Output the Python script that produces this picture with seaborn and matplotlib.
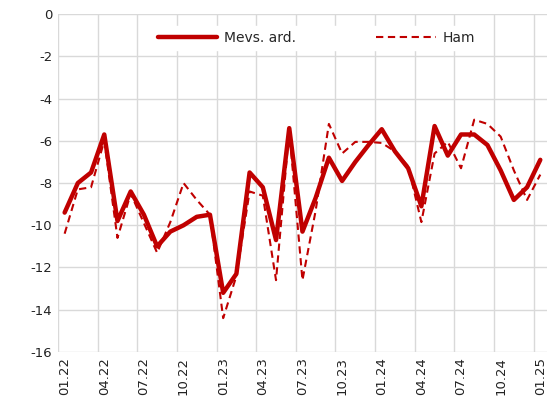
import numpy as np
import pandas as pd
import matplotlib
matplotlib.use("Agg")
import matplotlib.pyplot as plt
import seaborn as sns
from matplotlib.ticker import FixedLocator

months = ["01.22","02.22","03.22","04.22","05.22","06.22","07.22","08.22","09.22","10.22","11.22","12.22",
          "01.23","02.23","03.23","04.23","05.23","06.23","07.23","08.23","09.23","10.23","11.23","12.23",
          "01.24","02.24","03.24","04.24","05.24","06.24","07.24","08.24","09.24","10.24","11.24","12.24",
          "01.25"]
mevs = [-9.4, -8.0, -7.5, -5.7, -9.8, -8.4, -9.5, -11.0, -10.3, -10.0, -9.6, -9.5,
        -13.2, -12.3, -7.5, -8.2, -10.7, -5.4, -10.3, -8.7, -6.8, -7.9, -7.0, -6.2,
        -5.45, -6.5, -7.3, -9.1, -5.3, -6.7, -5.7, -5.7, -6.2, -7.4, -8.8, -8.2,
        -6.9]
ham = [-10.4, -8.3, -8.2, -6.0, -10.6, -8.5, -9.9, -11.3, -9.85, -8.0, -8.8, -9.5,
       -14.4, -12.4, -8.4, -8.6, -12.6, -5.5, -12.6, -9.3, -5.2, -6.6, -6.05, -6.05,
       -6.1, -6.5, -7.2, -9.85, -6.6, -6.05, -7.3, -5.0, -5.2, -5.8, -7.4, -8.8,
       -7.6]
series_names = ["Mevs. ard.", "Ham"]

idx = np.arange(len(months))
df = pd.DataFrame({
    "i": np.concatenate([idx, idx]),
    "val": mevs + ham,
    "series": [series_names[0]] * len(months) + [series_names[1]] * len(months),
})

sns.set_theme(style="white")
plt.rcParams['font.family'] = ['DejaVu Sans']

fig = plt.figure(figsize=(5.6, 4.16), dpi=100)
ax = fig.add_axes([0.1036, 0.154, 0.873, 0.812])

red = "#C00000"
sns.lineplot(data=df[df.series == series_names[0]], x="i", y="val", ax=ax,
             color=red, linewidth=3.2, label=series_names[0])
sns.lineplot(data=df[df.series == series_names[1]], x="i", y="val", ax=ax,
             color=red, linewidth=1.5, linestyle=(0, (3.5, 2.2)), label=series_names[1])

ax.set_xlim(-0.5, len(months) - 0.5)
ax.set_ylim(-16, 0)
ax.set_yticks(np.arange(-16, 1, 2))
ax.set_yticklabels([str(v) for v in range(-16, 1, 2)], fontsize=9.5, color="#222222")
ax.set_xticks(idx[::3])
ax.set_xticklabels(months[::3], rotation=90, fontsize=9.5, color="#222222")
ax.xaxis.set_minor_locator(FixedLocator(idx[::3] - 0.5))
ax.tick_params(axis="both", which="both", length=0, pad=4)
ax.grid(True, axis="y", which="major", color="#D9D9D9", linewidth=1.0)
ax.grid(True, axis="x", which="minor", color="#D9D9D9", linewidth=1.0)
ax.grid(False, axis="x", which="major")
ax.set_axisbelow(True)
for s in ax.spines.values():
    s.set_visible(False)
ax.set_xlabel("")
ax.set_ylabel("")

leg = ax.legend(loc="upper center", bbox_to_anchor=(0.528, 0.985), ncol=2, frameon=True,
                fontsize=10, columnspacing=5.8, handlelength=4.3, handletextpad=0.45,
                borderpad=0.35)
leg.get_frame().set_facecolor("white")
leg.get_frame().set_edgecolor("white")
leg.get_frame().set_alpha(1.0)
leg.get_frame().set_boxstyle("square", pad=0.0)

fig.savefig("out.png", dpi=100, facecolor="white")
